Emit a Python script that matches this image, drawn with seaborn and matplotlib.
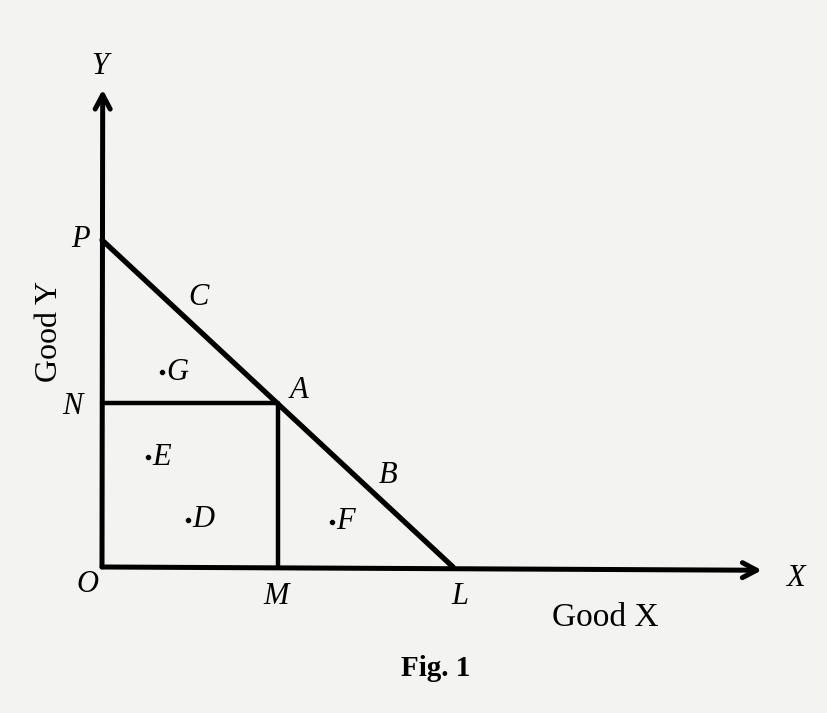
import pandas as pd
import seaborn as sns
import matplotlib.pyplot as plt

# Data (in units of the diagram: O = (0, 0), P = (0, 10), L = (10, 0))
budget_x = [0, 10]
budget_y = [10, 0]
combo_x = [0, 5, 5]          # N -> A -> M
combo_y = [5, 5, 0]
dot_names = ['G', 'E', 'D', 'F']
dot_x = [1.71, 1.31, 2.45, 6.55]
dot_y = [5.96, 3.36, 1.44, 1.38]
line_names = ['C', 'A', 'B']
line_x = [2.75, 5.6, 8.15]
line_y = [8.25, 5.4, 2.8]
axis_names = ['P', 'N', 'O', 'M', 'L']
axis_x = [-0.62, -0.85, -0.4, 4.95, 10.2]
axis_y = [10.0, 4.9, -0.55, -0.9, -0.9]
x_end = 18.8
y_end = 14.6

sns.set_theme(style='white')
plt.rcParams['font.family'] = ['Liberation Serif', 'DejaVu Serif']
plt.rcParams['text.color'] = 'black'

fig = plt.figure(figsize=(8.27, 7.13), dpi=100)
fig.patch.set_facecolor('#f3f3f1')
ax = fig.add_axes([0, 0, 1, 1])
ax.set_facecolor('#f3f3f1')
ax.set_xlim(-2.906, 20.655)
ax.set_ylim(-4.465, 17.339)
ax.axis('off')

# axes with arrows
arrow = dict(arrowstyle='->, head_length=0.85, head_width=0.45', lw=3.6,
             color='black', shrinkA=0, shrinkB=0)
ax.annotate('', xy=(x_end, -0.1), xytext=(0, 0), arrowprops=arrow)
ax.annotate('', xy=(0.02, y_end), xytext=(0, 0), arrowprops=arrow)

# budget line P-L
budget = pd.DataFrame({'x': budget_x, 'y': budget_y})
sns.lineplot(data=budget, x='x', y='y', sort=False, estimator=None,
             color='black', lw=3.8, ax=ax)

# N-A-M lines
combo = pd.DataFrame({'x': combo_x, 'y': combo_y})
sns.lineplot(data=combo, x='x', y='y', sort=False, estimator=None,
             color='black', lw=3.2, ax=ax)

# interior points
dots = pd.DataFrame({'x': dot_x, 'y': dot_y, 'name': dot_names})
sns.scatterplot(data=dots, x='x', y='y', color='black', s=18, ax=ax, legend=False)
for n, x, y in zip(dot_names, dot_x, dot_y):
    ax.text(x + 0.12, y, n, fontsize=22, style='italic', ha='left', va='center')

for n, x, y in zip(line_names, line_x, line_y):
    ax.text(x, y, n, fontsize=22, style='italic', ha='center', va='center')

for n, x, y in zip(axis_names, axis_x, axis_y):
    ax.text(x, y, n, fontsize=22, style='italic', ha='center', va='center')

ax.text(-0.05, 15.3, 'Y', fontsize=22, style='italic', ha='center', va='center')
ax.text(19.75, -0.35, 'X', fontsize=22, style='italic', ha='center', va='center')

ax.text(-1.5, 7.2, 'Good Y', fontsize=23, rotation=90, ha='center', va='center')
ax.text(14.33, -1.55, 'Good X', fontsize=24, ha='center', va='center')
ax.text(9.5, -3.1, 'Fig. 1', fontsize=21, fontweight='bold', ha='center', va='center')

fig.savefig('out.png', dpi=100)
